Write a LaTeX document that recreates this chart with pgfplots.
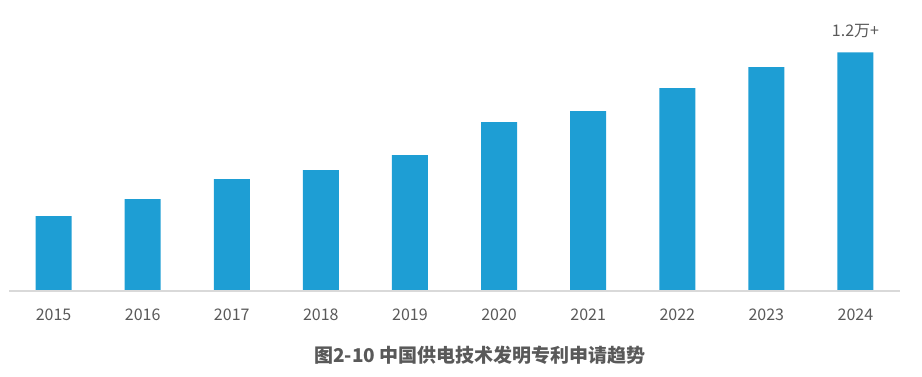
\documentclass[border=0pt]{standalone}
\usepackage{fontspec}
\setmainfont{Noto Sans CJK SC}
\usepackage{pgfplots}
\pgfplotsset{compat=1.18}
\definecolor{barblue}{RGB}{30,158,212}
\definecolor{txtgray}{RGB}{89,89,89}
\definecolor{axgray}{RGB}{217,217,217}
\begin{document}
\begin{tikzpicture}
\useasboundingbox (-9bp,-86bp) rectangle (913bp,291bp);
\begin{axis}[
  at={(44.55bp,0)}, anchor=origin,
  x=89.1bp, y=0.0199167bp,
  xmin=-0.5, xmax=9.5, ymin=0, ymax=14000,
  axis line style={draw=none},
  axis x line*=bottom,
  hide y axis,
  xtick=data,
  xticklabels={2015,2016,2017,2018,2019,2020,2021,2022,2023,2024},
  xtick style={draw=none},
  ticklabel style={font=\fontsize{16bp}{18bp}\selectfont, text=txtgray},
  xticklabel style={yshift=-14bp},
  /pgf/number format/assume math mode=true,
  clip=false,
]
\addplot[ybar, bar width=0.404, fill=barblue, draw=none] coordinates {
(0,3766) (1,4619) (2,5623) (3,6075) (4,6828) (5,8485) (6,9038) (7,10192) (8,11247) (9,12000)
};
\draw[axgray, line width=1.2bp] (axis cs:-0.5,0) -- (axis cs:9.5,0);
\node[font=\fontsize{16bp}{18bp}\selectfont, text=txtgray, anchor=south] at (axis cs:9,12000) [yshift=11bp] {1.2万+};
\end{axis}
\node[font=\fontsize{19bp}{22bp}\selectfont\bfseries, text=txtgray] at (471bp,-64bp) {图2-10 中国供电技术发明专利申请趋势};
\end{tikzpicture}
\end{document}
